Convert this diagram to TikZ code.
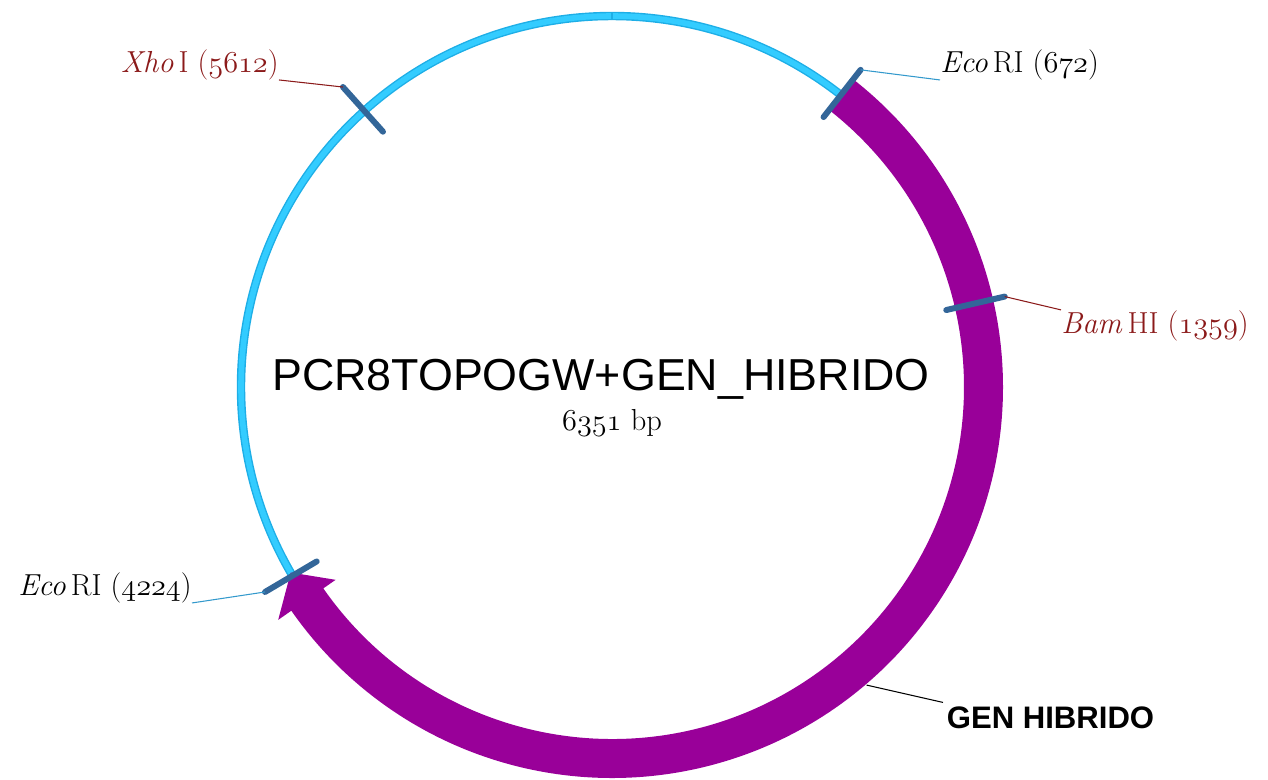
\documentclass[tikz,border=0pt]{standalone}
\usepackage{fontspec}
\newfontfamily\arialfont{Liberation Sans}
\usetikzlibrary{calc}
\definecolor{ringblue}{HTML}{33CCFF}
\definecolor{ringedge}{HTML}{1EAEE6}
\definecolor{genpurple}{HTML}{990099}
\definecolor{cutblue}{HTML}{336699}
\definecolor{sitered}{HTML}{8B1A1A}
\definecolor{leadblue}{HTML}{3399CC}
\newcommand\osn[1]{{\fontencoding{OML}\fontfamily{cmm}\fontseries{m}\fontshape{it}\selectfont #1}}
\tikzset{
  cutmark/.style={draw=cutblue,line width=3.4pt,line cap=round},
  leadred/.style={draw=sitered,line width=0.6pt},
  leadline/.style={draw=leadblue,line width=0.6pt},
  sitelabel/.style={inner sep=0pt,font=\fontsize{17.3}{19}\selectfont},
  genelabel/.style={inner sep=2pt,font=\arialfont\bfseries\fontsize{17.7}{20}\selectfont},
  titlelabel/.style={inner sep=0pt,font=\arialfont\fontsize{25.5}{28}\selectfont},
}

\begin{document}
\begin{tikzpicture}[x=0.02cm,y=-0.02cm]
  \useasboundingbox (0,0) rectangle (1268,779);
  \coordinate (C) at (612,387);
  % backbone
  \draw[ringedge,line width=4.8pt] (C) circle[radius=371];
  \draw[ringblue,line width=3.2pt] (C) circle[radius=371];
  \draw[ringedge,line width=0.8pt] ($(C)+(-90:367)$) -- ($(C)+(-90:375)$);
  % gene arrow
  \fill[genpurple] ($(C)+(-51.91:391)$) arc[start angle=-51.91,end angle=145.1,radius=391]
    -- ($(C)+(145.1:407)$) -- ($(C)+(150:371)$) -- ($(C)+(145.1:337)$)
    -- ($(C)+(145.1:352)$) arc[start angle=145.1,end angle=-51.91,radius=352] -- cycle;
  % cut sites
  \foreach \name/\ang in {xho/228.11,ecoa/-51.91,bam/-12.97,ecob/149.43} {
    \coordinate (\name-in)  at ($(C)+(\ang:343)$);
    \coordinate (\name-out) at ($(C)+(\ang:403)$);
    \draw[cutmark] (\name-in) -- (\name-out);
  }
  \coordinate (gen-pt) at ($(C)+(49.5:392)$);
  % labels
  \node[titlelabel,anchor=base] (title) at (601,390) {PCR8TOPOGW+GEN\_HIBRIDO};
  \node[sitelabel,anchor=base] (size) at (612,430) {\osn{6351} bp};
  \node[sitelabel,text=sitered,anchor=base east] (xho) at (279,72) {\textit{Xho}\,I (\osn{5612})};
  \node[sitelabel,anchor=base west] (ecoa) at (940,72) {\textit{Eco}\,RI (\osn{672})};
  \node[sitelabel,text=sitered,anchor=base west] (bam) at (1061,333) {\textit{Bam}\,HI (\osn{1359})};
  \node[sitelabel,anchor=base east] (ecob) at (192,595) {\textit{Eco}\,RI (\osn{4224})};
  \node[genelabel,anchor=base west] (gen) at (943,728) {GEN HIBRIDO};
  \draw[leadred] (xho.south east) -- (xho-out);
  \draw[leadline] (ecoa-out) -- (ecoa.south west);
  \draw[leadred] (bam-out) -- (bam.north west);
  \draw[leadline] (ecob-out) -- (ecob.south east);
  \draw[line width=0.6pt] (gen-pt) -- (gen.north west);
\end{tikzpicture}
\end{document}
